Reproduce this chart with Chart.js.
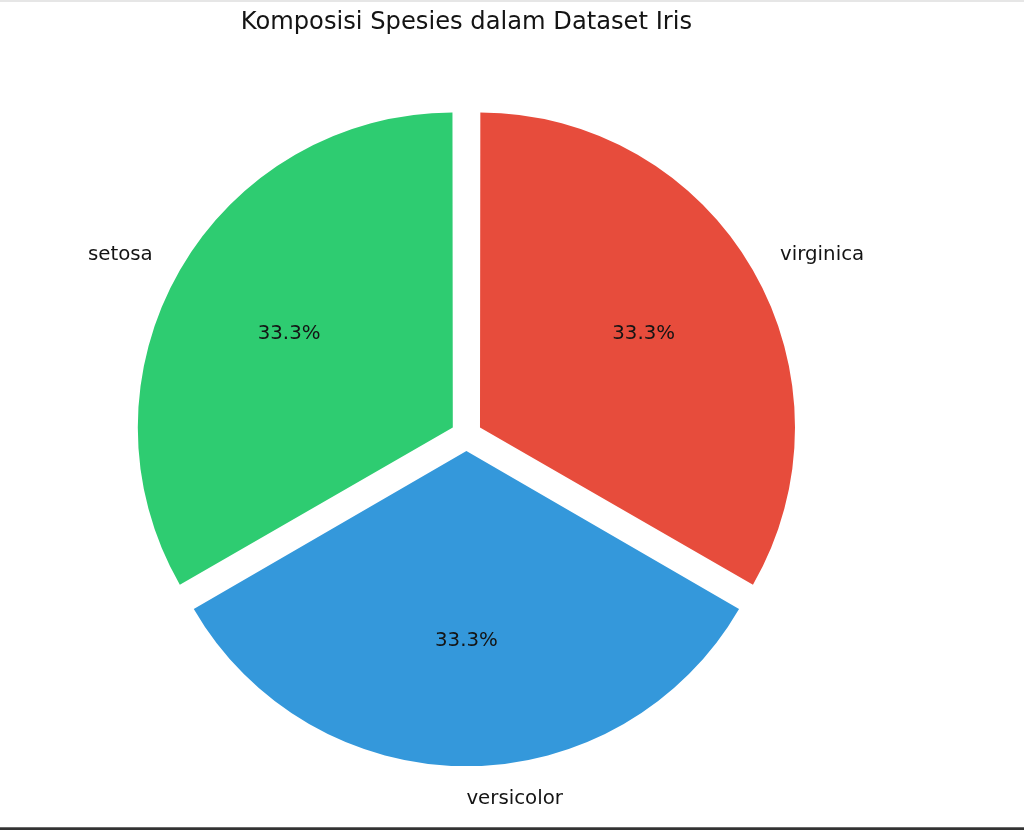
<!DOCTYPE html>
<html>
<head>
<meta charset="utf-8">
<script src="https://cdn.jsdelivr.net/npm/chart.js@4/dist/chart.umd.min.js"></script>
<style>
  html, body { margin: 0; padding: 0; background: #ffffff; overflow: hidden; }
  #wrap { position: relative; width: 1024px; height: 830px; }
  canvas { position: absolute; left: 0; top: 0; }
  #topline { position: absolute; left: 0; top: 0; width: 1024px; height: 2px; background: #e6e6e6; z-index: 2; }
  #botbar { position: absolute; left: 0; top: 827px; width: 1024px; height: 3px; background: #333333; border-top: 1px solid #6a6a6a; box-sizing: border-box; z-index: 2; }
</style>
</head>
<body>
<div id="wrap">
  <canvas id="c" width="1024" height="830"></canvas>
  <div id="topline"></div>
  <div id="botbar"></div>
</div>
<script>
// ---- data ----
const titleText = "Komposisi Spesies dalam Dataset Iris";
const species = ["setosa", "versicolor", "virginica"];
const counts = [50, 50, 50];
const colors = ["#2ecc71", "#3498db", "#e74c3c"];

// matplotlib draws counter-clockwise from the top; Chart.js draws clockwise,
// so feed the slices in reverse order.
const order = [2, 1, 0];
const labels = order.map(i => species[i]);
const values = order.map(i => counts[i]);
const bg = order.map(i => colors[i]);
const total = counts.reduce((a, b) => a + b, 0);

const SHIFT = 15.7;          // explode distance in px
const OFFSET = SHIFT * 4;    // Chart.js divides arc offset by 4
const RADIUS = 312.9;

const labelPlugin = {
  id: 'pieLabels',
  afterDraw(chart) {
    const ctx = chart.ctx;
    const meta = chart.getDatasetMeta(0);
    ctx.save();
    ctx.fillStyle = '#141414';
    // title
    ctx.font = '24.2px "DejaVu Sans"';
    ctx.textAlign = 'center';
    ctx.textBaseline = 'alphabetic';
    ctx.fillText(titleText, 466.4, 28.8);
    ctx.font = '19.8px "DejaVu Sans"';
    ctx.textBaseline = 'middle';
    meta.data.forEach((arc, i) => {
      const mid = (arc.startAngle + arc.endAngle) / 2;
      const circ = arc.endAngle - arc.startAngle;
      const fix = 1 - Math.sin(Math.min(Math.PI, circ));
      const r = arc.outerRadius + SHIFT * fix;
      const cx = arc.x + Math.cos(mid) * SHIFT;
      const cy = arc.y + Math.sin(mid) * SHIFT;
      const c = Math.cos(mid), s = Math.sin(mid);
      // category label
      ctx.textAlign = c < 0 ? 'right' : 'left';
      ctx.fillText(labels[i], cx + c * r * 1.1, cy + s * r * 1.1 + 0.8);
      // percent label
      ctx.textAlign = 'center';
      const pct = (values[i] / total * 100).toFixed(1) + '%';
      ctx.fillText(pct, cx + c * r * 0.6, cy + s * r * 0.6 + 0.8);
    });
    ctx.restore();
  }
};

new Chart(document.getElementById('c'), {
  type: 'pie',
  data: {
    labels: labels,
    datasets: [{
      data: values,
      backgroundColor: bg,
      borderWidth: 0,
      offset: OFFSET,
      hoverOffset: OFFSET
    }]
  },
  options: {
    responsive: false,
    animation: false,
    events: [],
    radius: RADIUS,
    rotation: 0,
    layout: { padding: { left: 0, right: 91.2, top: 48, bottom: 7.2 } },
    plugins: {
      legend: { display: false },
      title: { display: false },
      tooltip: { enabled: false }
    }
  },
  plugins: [labelPlugin]
});
</script>
</body>
</html>
